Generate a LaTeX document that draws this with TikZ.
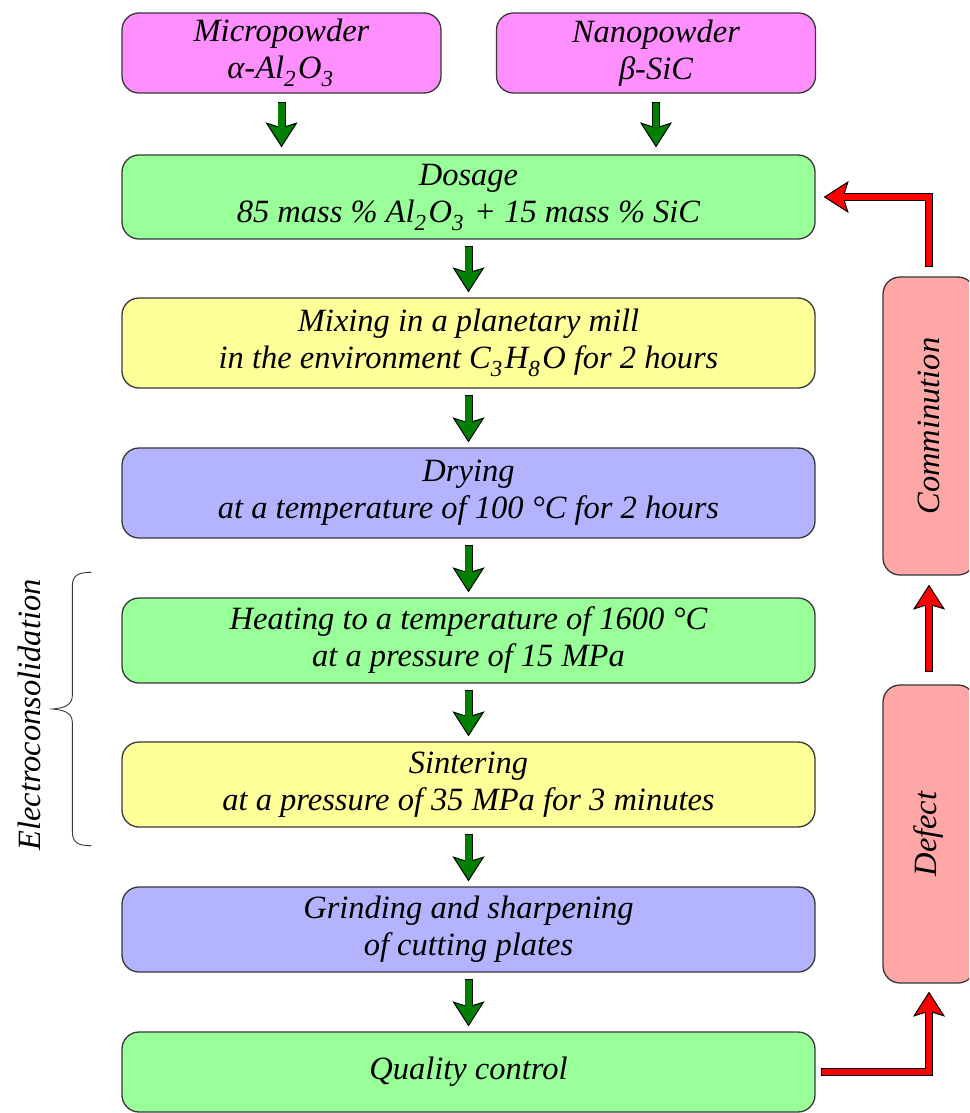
\documentclass[tikz,border=0pt]{standalone}
\usepackage{fontspec}
\usepackage{graphicx}
\setmainfont{Liberation Serif}[
  UprightFont={Liberation Serif},
  ItalicFont={Liberation Serif Italic},
  BoldFont={Liberation Serif Bold}]
\usetikzlibrary{arrows.meta,calc}

\definecolor{boxline}{HTML}{383838}
\definecolor{powder}{HTML}{FF8FFF}
\definecolor{stepgreen}{HTML}{99FF99}
\definecolor{stepyellow}{HTML}{FFFF99}
\definecolor{stepblue}{HTML}{B3B3FF}
\definecolor{loopred}{HTML}{FFA6A6}
\definecolor{flowgreen}{HTML}{008000}
\definecolor{flowred}{HTML}{FF0000}

% chemical index: smaller, lowered, with a little room after it
\newcommand\chemidx[1]{\raisebox{-8pt}{\fontsize{23}{23}\selectfont #1}\kern2.5pt\relax}

\tikzset{
  every node/.style={font=\fontsize{32.5}{37}\selectfont\itshape},
  box/.style={draw=boxline, line width=1.3pt, rounded corners=17pt,
    align=center, inner sep=0pt},
  mainbox/.style={box, minimum width=693pt},
  topbox/.style={box, fill=powder, minimum width=319pt, minimum height=80pt},
  sidebox/.style={box, fill=loopred, minimum width=92pt, minimum height=298pt},
  % outlined block arrow: black body with a coloured head, then a coloured core
  arrowbody/.style={line width=8pt, draw=black,
    -{Stealth[length=25pt,width=32pt,inset=5pt,line width=1pt,color=black,fill=#1]}},
  arrowcore/.style={line width=6.2pt, draw=#1},
}

% #1 colour, #2 gap at the tail, #3 gap at the head, #4 path
\newcommand\fatarrow[4]{%
  \draw[arrowbody=#1, shorten <=#2, shorten >=#3] #4;
  \draw[arrowcore=#1, shorten <=#2+0.9pt, shorten >=#3+17pt] #4;
}

\begin{document}
\begin{tikzpicture}[x=1pt,y=-1pt]
\useasboundingbox (0,0) rectangle (969,1113);
\clip (0,0) rectangle (969,1113);

% raw materials
\node[topbox] (micro) at (281.5,53) {Micropowder\\α-Al\chemidx{2}O\chemidx{3}};
\node[topbox] (nano)  at (656,53)   {Nanopowder\\β-SiC};

% process steps
\node[mainbox, fill=stepgreen, minimum height=84pt] (dos) at (468.5,197)
  {Dosage\\85 mass \% Al\chemidx{2}O\chemidx{3} + 15 mass \% SiC};
\node[mainbox, fill=stepyellow, minimum height=90pt] (mix) at (468.5,343)
  {Mixing in a planetary mill\\in the environment C\chemidx{3}H\chemidx{8}O for 2 hours};
\node[mainbox, fill=stepblue, minimum height=90pt] (dry) at (468.5,493)
  {Drying\\at a temperature of 100 °C for 2 hours};
\node[mainbox, fill=stepgreen, minimum height=85pt] (heat) at (468.5,640.5)
  {Heating to a temperature of 1600 °C\\at a pressure of 15 MPa};
\node[mainbox, fill=stepyellow, minimum height=85pt] (sint) at (468.5,784.5)
  {Sintering\\at a pressure of 35 MPa for 3 minutes};
\node[mainbox, fill=stepblue, minimum height=85pt] (grind) at (468.5,929.5)
  {Grinding and sharpening\\of cutting plates};
\node[mainbox, fill=stepgreen, minimum height=80pt] (qc) at (468.5,1072)
  {Quality control};

% rejection loop
\node[sidebox] (comm)   at (929,426) {\rotatebox{90}{Comminution}};
\node[sidebox] (defect) at (929,834) {\rotatebox{90}{Defect}};

% main flow
\fatarrow{flowgreen}{8pt}{7pt}{(micro.south) -- (micro.south |- dos.north)}
\fatarrow{flowgreen}{8pt}{7pt}{(nano.south) -- (nano.south |- dos.north)}
\fatarrow{flowgreen}{6pt}{5pt}{(dos.south) -- (mix.north)}
\fatarrow{flowgreen}{6pt}{5pt}{(mix.south) -- (dry.north)}
\fatarrow{flowgreen}{6pt}{5pt}{(dry.south) -- (heat.north)}
\fatarrow{flowgreen}{6pt}{5pt}{(heat.south) -- (sint.north)}
\fatarrow{flowgreen}{6pt}{5pt}{(sint.south) -- (grind.north)}
\fatarrow{flowgreen}{6pt}{5pt}{(grind.south) -- (qc.north)}

% loop back to dosage
\fatarrow{flowred}{5pt}{8pt}{(qc.east) -| (defect.south)}
\fatarrow{flowred}{12pt}{9pt}{(defect.north) -- (comm.south)}
\fatarrow{flowred}{9pt}{8pt}{(comm.north) |- (dos.east)}

% electroconsolidation brace
\coordinate (bt) at ($(heat.north west)+(-30,-25)$);
\coordinate (bb) at ($(sint.south west)+(-30,18)$);
\draw[line width=0.9pt, boxline]
  (bt) .. controls +(-12,0) and +(0,-12) .. ++(-19,14)
  -- ($(bt)!0.45!(bb)+(-19,0)$)
  .. controls +(0,11) and +(10,-1) .. ($(bt)!0.5!(bb)+(-39,0)$)
  .. controls +(10,1) and +(0,-11) .. ($(bt)!0.55!(bb)+(-19,0)$)
  -- ($(bb)+(-19,-14)$)
  .. controls +(0,12) and +(-12,0) .. (bb);
\node[rotate=90] (ec) at (29,715) {Electroconsolidation};
\end{tikzpicture}
\end{document}
